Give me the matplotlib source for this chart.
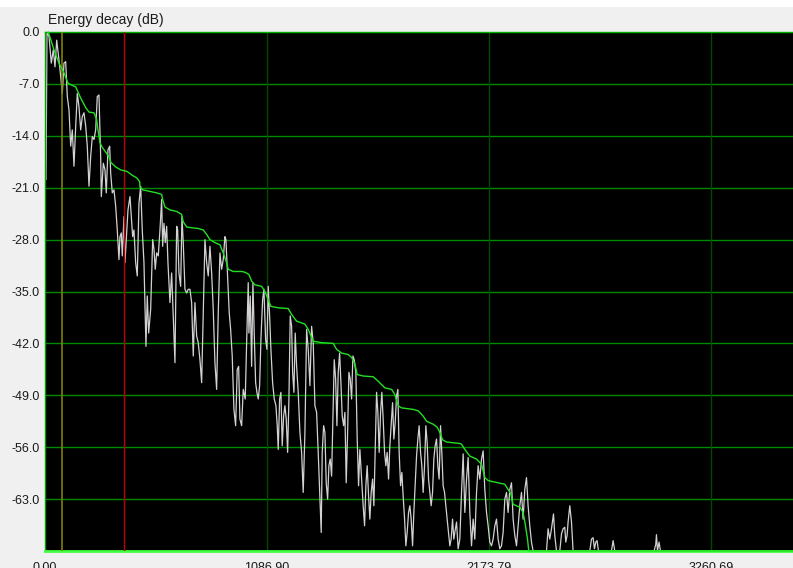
#!/usr/bin/env python3
"""
Energy decay plot - 能量衰减曲线 (dB)

白线：瞬时能量；绿线：衰减包络
"""

import matplotlib.pyplot as plt
from matplotlib.patches import Rectangle

# ============================================================================
# 1. 数据
# ============================================================================

# 瞬时能量 (dB)
decay_t = [
    4.9, 9.8, 19.6, 30.8, 40.6, 48.9, 57.2, 68.5, 76.8, 84.6,
    92.9, 101.2, 109.1, 117.4, 125.7, 133.5, 141.8, 150.2, 158.0, 166.3,
    174.6, 182.4, 190.8, 199.1, 206.9, 215.2, 223.5, 231.4, 239.7, 248.0,
    255.8, 264.1, 272.4, 275.5, 285.3, 293.5, 299.8, 308.1, 316.4, 321.3,
    329.2, 337.5, 345.8, 353.6, 361.9, 366.8, 373.2, 378.1, 386.4, 391.3,
    397.7, 406.0, 415.8, 422.1, 428.9, 435.3, 443.6, 451.5, 459.8, 468.1,
    475.9, 484.2, 494.0, 500.4, 507.2, 517.0, 526.8, 533.2, 539.5, 546.4,
    554.2, 562.5, 570.8, 575.7, 582.1, 588.4, 595.3, 601.6, 611.4, 619.7,
    627.5, 635.9, 644.2, 649.1, 655.4, 663.7, 670.1, 676.5, 684.8, 693.1,
    700.9, 709.2, 717.5, 725.4, 733.7, 742.0, 749.8, 758.2, 766.5, 774.3,
    782.6, 790.9, 798.8, 807.1, 815.4, 823.2, 831.5, 839.8, 847.7, 856.0,
    864.3, 872.1, 880.4, 885.3, 891.7, 901.5, 908.3, 916.1, 924.4, 932.8,
    940.6, 947.5, 953.8, 962.1, 970.0, 979.8, 986.6, 994.4, 997.8, 1004.2,
    1011.0, 1017.4, 1023.7, 1030.6, 1036.9, 1043.3, 1050.2, 1056.5, 1064.8, 1071.2,
    1079.5, 1085.9, 1092.2, 1099.1, 1105.4, 1113.7, 1121.6, 1129.9, 1136.3, 1141.2,
    1148.0, 1154.4, 1160.7, 1167.6, 1173.9, 1180.3, 1187.2, 1193.5, 1199.9, 1206.7,
    1211.6, 1218.0, 1224.3, 1231.2, 1239.0, 1247.3, 1255.6, 1263.4, 1271.8, 1280.1,
    1287.9, 1296.2, 1304.5, 1312.4, 1320.7, 1329.0, 1336.8, 1345.1, 1351.5, 1356.4,
    1363.3, 1369.6, 1376.0, 1382.9, 1389.2, 1395.6, 1402.4, 1408.8, 1415.2, 1422.0,
    1428.4, 1434.7, 1441.6, 1447.9, 1454.3, 1461.2, 1467.4, 1473.8, 1480.7, 1487.0,
    1493.4, 1500.2, 1506.6, 1513.0, 1521.1, 1527.6, 1534.3, 1540.7, 1549.0, 1556.8,
    1563.7, 1570.0, 1576.4, 1583.3, 1589.6, 1596.0, 1602.8, 1609.2, 1615.5, 1622.4,
    1628.7, 1635.1, 1642.0, 1648.3, 1654.7, 1661.5, 1667.9, 1674.2, 1681.1, 1687.4,
    1693.8, 1700.7, 1707.0, 1713.4, 1720.2, 1726.6, 1732.9, 1739.8, 1746.1, 1752.5,
    1759.4, 1765.7, 1772.1, 1778.9, 1785.2, 1791.6, 1798.5, 1804.8, 1811.2, 1818.0,
    1824.4, 1830.7, 1837.6, 1843.9, 1850.3, 1857.2, 1863.5, 1869.9, 1876.7, 1883.0,
    1889.4, 1896.3, 1902.6, 1909.0, 1915.8, 1922.2, 1928.5, 1935.4, 1941.7, 1948.1,
    1955.0, 1961.3, 1967.7, 1974.5, 1980.9, 1987.2, 1994.1, 2000.4, 2005.3, 2013.7,
    2021.5, 2029.8, 2038.1, 2046.0, 2054.3, 2062.6, 2070.4, 2078.7, 2087.0, 2094.9,
    2103.1, 2111.5, 2119.3, 2127.6, 2135.9, 2143.8, 2152.0, 2160.4, 2168.2, 2176.5,
    2184.8, 2192.7, 2201.0, 2209.3, 2217.1, 2225.4, 2233.7, 2241.6, 2249.9, 2258.2,
    2266.0, 2274.3, 2282.6, 2290.5, 2298.8, 2307.1, 2314.9, 2323.2, 2331.5, 2339.4,
    2347.7, 2356.0, 2363.8, 2372.1, 2380.4, 2388.3, 2453.8, 2461.7, 2470.0, 2478.3,
    2488.1, 2494.4, 2502.7, 2518.9, 2527.2, 2535.0, 2543.3, 2548.2, 2554.6, 2559.5,
    2567.8, 2576.1, 2584.0, 2665.6, 2673.9, 2681.8, 2688.6, 2695.0, 2701.3, 2708.2,
    2771.8, 2779.7, 2788.0, 2980.2, 2988.5, 2991.9, 2996.8, 3004.6, 3011.5,
]
decay_db = [
    -19.9, -0.1, -0.6, -4.2, -2.4, -4.7, -1.1, -3.8, -6.0, -8.3,
    -4.2, -4.0, -8.7, -10.5, -15.4, -13.2, -18.1, -12.7, -8.3, -10.1,
    -13.2, -11.4, -10.9, -12.7, -15.4, -20.8, -16.8, -14.1, -14.5, -13.2,
    -8.7, -8.5, -16.8, -22.2, -17.7, -18.6, -21.7, -15.9, -15.4, -19.0,
    -21.7, -21.3, -23.5, -26.7, -30.7, -27.6, -27.1, -30.2, -24.9, -31.1,
    -28.0, -24.0, -22.2, -24.9, -27.6, -26.7, -31.1, -32.9, -23.1, -20.8,
    -26.7, -31.1, -42.4, -35.6, -40.6, -37.4, -28.0, -29.3, -32.0, -29.8,
    -30.2, -26.7, -22.6, -28.9, -25.8, -28.4, -26.2, -31.1, -36.5, -32.5,
    -38.3, -44.6, -26.2, -26.7, -32.5, -34.3, -24.9, -28.4, -34.7, -35.2,
    -34.7, -34.7, -36.5, -43.7, -36.5, -41.0, -41.9, -44.2, -47.3, -37.9,
    -28.0, -31.1, -32.9, -28.9, -32.5, -37.4, -44.6, -48.2, -37.9, -29.8,
    -32.0, -30.7, -27.6, -28.0, -32.0, -37.9, -40.1, -43.7, -50.9, -53.1,
    -45.5, -45.1, -52.2, -53.1, -48.2, -49.5, -41.9, -33.8, -40.6, -35.6,
    -45.1, -33.8, -40.6, -47.3, -48.6, -49.5, -47.7, -41.5, -36.1, -34.7,
    -41.5, -42.8, -34.3, -38.3, -42.8, -47.3, -49.5, -50.4, -53.1, -56.3,
    -49.5, -48.6, -55.8, -51.8, -50.4, -52.2, -56.7, -49.5, -38.3, -39.7,
    -45.9, -48.6, -40.6, -45.1, -48.6, -54.0, -56.7, -62.1, -54.0, -40.1,
    -42.8, -47.7, -39.7, -41.9, -50.4, -51.3, -56.7, -63.0, -67.5, -56.7,
    -53.1, -54.0, -60.8, -63.0, -58.5, -57.6, -59.9, -51.8, -44.2, -46.8,
    -53.1, -45.9, -43.3, -47.3, -51.8, -53.1, -51.3, -60.8, -54.0, -45.9,
    -46.8, -49.5, -43.7, -44.2, -45.9, -54.9, -61.2, -56.3, -60.3, -63.9,
    -66.6, -61.2, -58.5, -62.6, -65.7, -62.1, -60.3, -63.9, -56.7, -48.6,
    -51.3, -56.7, -51.3, -48.6, -52.2, -56.7, -58.5, -56.7, -60.3, -55.8,
    -53.1, -50.0, -54.9, -52.7, -49.1, -48.2, -56.7, -61.2, -59.4, -62.6,
    -65.7, -69.3, -67.5, -64.8, -63.9, -65.7, -69.3, -64.8, -61.2, -57.2,
    -54.9, -53.1, -56.7, -58.5, -62.1, -58.5, -53.1, -55.4, -60.3, -62.1,
    -63.9, -62.1, -57.6, -55.8, -54.9, -58.5, -60.3, -53.1, -56.7, -61.2,
    -62.1, -63.9, -65.7, -67.5, -69.3, -68.4, -65.7, -68.4, -67.5, -66.1,
    -69.7, -68.4, -62.1, -56.9, -64.8, -60.3, -57.4, -64.8, -69.3, -65.7,
    -68.4, -62.1, -58.5, -60.3, -57.6, -56.5, -61.7, -64.8, -66.6, -68.8,
    -69.3, -68.4, -66.6, -65.7, -68.4, -69.7, -69.3, -67.5, -63.0, -62.1,
    -64.8, -61.7, -60.8, -65.7, -67.9, -69.3, -66.6, -63.9, -62.1, -65.7,
    -61.7, -60.1, -63.9, -66.6, -68.8, -70.0, -70.0, -67.0, -68.4, -67.0,
    -65.0, -67.9, -70.0, -70.0, -67.7, -67.0, -66.8, -68.8, -67.9, -66.1,
    -63.9, -66.1, -70.0, -70.0, -68.4, -68.2, -69.7, -68.8, -68.6, -70.0,
    -70.0, -68.6, -70.0, -70.0, -69.1, -67.8, -70.0, -68.8, -70.0,
]

# 衰减包络 (dB)
envelope_t = [
    16.0, 44.0, 68.5, 92.9, 112.5, 125.7, 150.2, 156.5, 174.6, 199.1,
    215.2, 239.7, 252.9, 259.2, 269.0, 278.8, 296.9, 313.0, 322.8, 345.8,
    370.3, 401.1, 425.5, 450.0, 463.2, 464.6, 479.3, 513.6, 546.4, 570.8,
    575.7, 586.9, 611.4, 644.2, 668.6, 676.5, 693.1, 717.5, 749.8, 774.3,
    790.9, 807.0, 831.5, 856.0, 872.1, 888.7, 896.5, 921.0, 962.1, 978.2,
    997.8, 1011.0, 1027.1, 1059.9, 1076.0, 1092.2, 1105.4, 1141.2, 1190.0, 1206.7,
    1231.2, 1271.7, 1287.9, 1304.5, 1312.4, 1353.4, 1410.2, 1426.8, 1451.2, 1483.5,
    1500.2, 1516.3, 1527.6, 1556.8, 1605.8, 1630.2, 1663.0, 1695.7, 1711.9, 1728.0,
    1744.7, 1801.4, 1825.9, 1850.3, 1866.9, 1899.2, 1918.8, 1932.0, 1945.2, 1964.8,
    1997.1, 2029.8, 2038.1, 2054.3, 2078.7, 2111.5, 2135.9, 2152.0, 2168.2, 2217.1,
    2249.9, 2266.0, 2279.3, 2290.5, 2323.2, 2339.4, 2351.1, 2360.9, 2367.3, 3660.0,
]
envelope_db = [
    0.0, -2.4, -4.2, -5.5, -6.9, -7.1, -7.4, -7.8, -8.9, -10.2,
    -10.8, -10.9, -11.8, -13.2, -14.9, -15.5, -16.2, -16.8, -17.6, -18.2,
    -18.6, -18.8, -19.3, -19.7, -20.2, -20.9, -21.3, -21.5, -21.7, -21.9,
    -22.6, -23.6, -24.0, -24.2, -24.6, -25.6, -26.3, -26.4, -26.5, -26.7,
    -27.3, -28.0, -28.4, -28.7, -29.8, -31.1, -32.0, -32.3, -32.3, -32.4,
    -32.7, -33.6, -34.1, -34.3, -35.0, -36.1, -37.0, -37.2, -37.3, -38.1,
    -39.0, -39.4, -40.1, -41.2, -41.7, -41.9, -42.0, -42.8, -43.3, -43.5,
    -43.9, -44.8, -46.2, -46.4, -46.5, -47.1, -48.0, -48.2, -48.9, -50.4,
    -50.7, -50.9, -51.1, -51.8, -52.5, -52.9, -53.3, -54.0, -55.0, -55.3,
    -55.4, -55.5, -55.6, -56.3, -57.2, -57.6, -58.3, -60.1, -60.5, -60.8,
    -61.0, -61.7, -62.3, -63.7, -64.1, -64.8, -66.6, -68.4, -70.0, -70.0,
]

# 标记线位置
yellow_t = 81.5
red_t = 386.4

# 坐标轴刻度
x_ticks = [0.00, 1086.90, 2173.79, 3260.69]
y_ticks = [0.0, -7.0, -14.0, -21.0, -28.0, -35.0, -42.0, -49.0, -56.0, -63.0]

# ============================================================================
# 2. 绘图
# ============================================================================

plt.rcParams['font.family'] = ['Liberation Sans', 'DejaVu Sans']

fig = plt.figure(figsize=(7.93, 5.68), dpi=100, facecolor='#f0f0f0')
fig.patches.append(Rectangle((0, 1 - 7 / 568), 1, 7 / 568, transform=fig.transFigure,
                             facecolor='white', edgecolor='none', zorder=-1))

ax = fig.add_axes([45 / 793, 17 / 568, 748 / 793, 519 / 568])
ax.set_facecolor('black')

# 网格：水平亮绿，竖直暗绿
for y in y_ticks[1:]:
    ax.axhline(y, color='#008a00', linewidth=1.0, zorder=1)
for x in x_ticks[1:]:
    ax.axvline(x, color='#004a00', linewidth=1.0, zorder=1)

ax.plot(decay_t, decay_db, color='#d2d2d2', linewidth=0.9, zorder=2)
ax.axvline(yellow_t, color='#808000', linewidth=1.2, zorder=3)
ax.axvline(red_t, color='#c00000', linewidth=1.0, zorder=3)
ax.plot(envelope_t, envelope_db, color='#22e022', linewidth=1.0, zorder=4, clip_on=False)

ax.set_xlim(0, 3660)
ax.set_ylim(-70, 0)

ax.set_xticks(x_ticks)
ax.set_xticklabels([f'{v:.2f}' for v in x_ticks])
ax.set_yticks(y_ticks)
ax.set_yticklabels([f'{v:.1f}' for v in y_ticks])
ax.tick_params(axis='both', length=0, labelsize=9, colors='#1a1a1a')
ax.tick_params(axis='y', pad=4)
ax.tick_params(axis='x', pad=8)

ax.spines['right'].set_visible(False)
ax.spines['top'].set_color('#00b000')
ax.spines['left'].set_color('#00a000')
ax.spines['bottom'].set_color('#40ff40')
ax.spines['bottom'].set_linewidth(2.0)
for s in ['top', 'left']:
    ax.spines[s].set_linewidth(1.0)

fig.text(48 / 793, 1 - 20 / 568, 'Energy decay (dB)', fontsize=10, va='center', ha='left',
         color='#1a1a1a')

plt.savefig('out.png', dpi=100, facecolor=fig.get_facecolor())
print("saved out.png")
